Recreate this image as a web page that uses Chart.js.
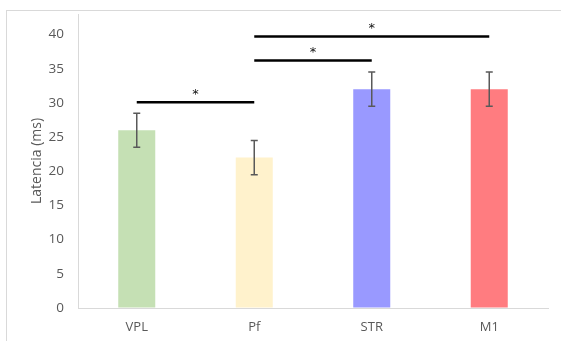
<!DOCTYPE html>
<html>
<head>
<meta charset="utf-8">
<script src="https://cdn.jsdelivr.net/npm/chart.js@4"></script>
<style>
  html, body { margin: 0; padding: 0; background: #fff; overflow: hidden; }
  #wrap { position: relative; width: 561px; height: 341px; }
  #frame { position: absolute; left: 6px; top: 10px; width: 600px; height: 400px; border: 1px solid #d9d9d9; box-sizing: border-box; }
  #chart { position: absolute; left: 0; top: 0; }
</style>
</head>
<body>
<div id="wrap">
  <div id="frame"></div>
  <canvas id="chart" width="561" height="341"></canvas>
</div>
<script>
const categories = ['VPL', 'Pf', 'STR', 'M1'];
const latency = [26, 22, 32, 32];
const errors = [2.5, 2.5, 2.5, 2.5];
const barColors = ['#c5e0b4', '#fff2cc', '#9999ff', '#ff7c80'];

// significance brackets: from category, to category, height (ms), mark
const sigFrom = [0, 1, 1];
const sigTo = [1, 2, 3];
const sigLevel = [30.1, 36.2, 39.7];
const sigMark = ['*', '*', '*'];

const yTicks = [0, 5, 10, 15, 20, 25, 30, 35, 40];

const errorBars = {
    id: 'errorBars',
    afterDatasetsDraw(chart) {
        const { ctx, scales: { x, y } } = chart;
        ctx.save();
        ctx.strokeStyle = '#595959';
        ctx.lineWidth = 1.5;
        latency.forEach((v, i) => {
            const px = x.getPixelForValue(i);
            const top = y.getPixelForValue(v + errors[i]);
            const bot = y.getPixelForValue(v - errors[i]);
            ctx.beginPath();
            ctx.moveTo(px, top); ctx.lineTo(px, bot);
            ctx.moveTo(px - 3.5, top); ctx.lineTo(px + 3.5, top);
            ctx.moveTo(px - 3.5, bot); ctx.lineTo(px + 3.5, bot);
            ctx.stroke();
        });
        ctx.restore();
    }
};

const sigBrackets = {
    id: 'sigBrackets',
    afterDatasetsDraw(chart) {
        const { ctx, scales: { x, y } } = chart;
        ctx.save();
        ctx.strokeStyle = '#000';
        ctx.fillStyle = '#111';
        ctx.lineWidth = 2.5;
        ctx.font = '13px "DejaVu Sans"';
        ctx.textAlign = 'center';
        ctx.textBaseline = 'middle';
        sigFrom.forEach((f, i) => {
            const x1 = x.getPixelForValue(f);
            const x2 = x.getPixelForValue(sigTo[i]);
            const py = y.getPixelForValue(sigLevel[i]);
            ctx.beginPath();
            ctx.moveTo(x1, py); ctx.lineTo(x2, py);
            ctx.stroke();
            ctx.fillText(sigMark[i], (x1 + x2) / 2, py - 8);
        });
        ctx.restore();
    }
};

const config = {
    type: 'bar',
    data: {
        labels: categories,
        datasets: [{
            data: latency,
            backgroundColor: barColors,
            borderWidth: 0,
            categoryPercentage: 1,
            barPercentage: 0.315
        }]
    },
    options: {
        responsive: false,
        animation: false,
        layout: { padding: { top: 14, right: 13, left: 0, bottom: 0 } },
        plugins: {
            legend: { display: false },
            tooltip: { enabled: false },
            title: { display: false }
        },
        scales: {
            x: {
                grid: { display: true, drawOnChartArea: false, drawTicks: false },
                border: { color: '#d9d9d9', width: 1 },
                ticks: { color: '#595959', padding: 11, font: { family: 'Open Sans', size: 13 } },
                afterFit: s => { s.height = 33; s.paddingLeft = 0; s.paddingRight = 0; }
            },
            y: {
                min: 0,
                max: 43,
                grid: { display: true, drawOnChartArea: false, drawTicks: false },
                border: { color: '#d9d9d9', width: 1 },
                ticks: {
                    color: '#595959',
                    padding: 14,
                    stepSize: 5,
                    includeBounds: false,
                    font: { family: 'Open Sans', size: 13.5 }
                },
                afterBuildTicks: s => { s.ticks = yTicks.map(v => ({ value: v })); },
                title: {
                    display: true,
                    text: 'Latencia (ms)',
                    color: '#595959',
                    padding: { top: 29, bottom: 0 },
                    font: { family: 'Open Sans', size: 14 }
                },
                afterFit: s => { s.width = 78; s.paddingTop = 0; s.paddingBottom = 0; }
            }
        }
    },
    plugins: [errorBars, sigBrackets]
};

new Chart(document.getElementById('chart'), config);
</script>
</body>
</html>
